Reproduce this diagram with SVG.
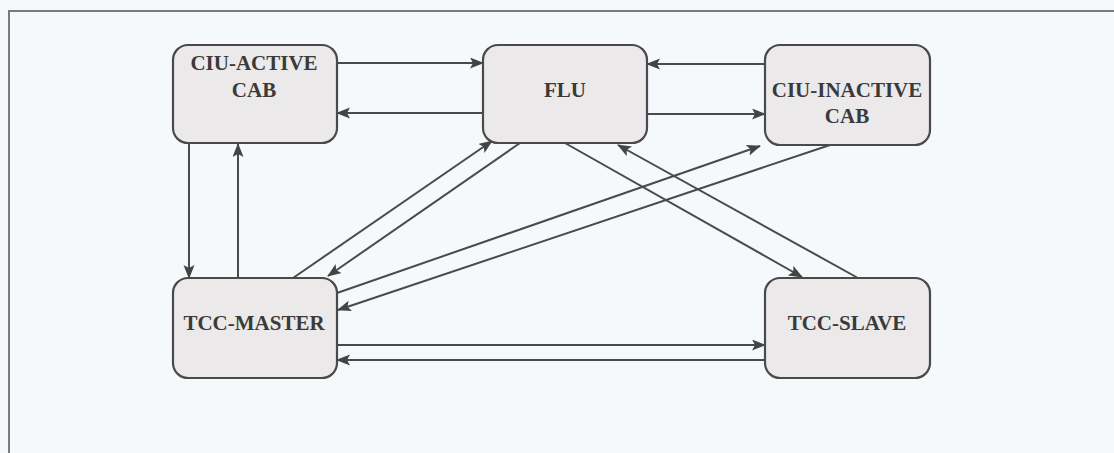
<svg xmlns="http://www.w3.org/2000/svg" width="1114" height="453" viewBox="0 0 1114 453">
  <defs>
    <marker id="arr" markerUnits="userSpaceOnUse" markerWidth="15" markerHeight="12" refX="13" refY="5.5" orient="auto">
      <path d="M0,0 L14,5.5 L0,11 L3,5.5 Z" fill="#444"/>
    </marker>
  </defs>
  <style>
    .bg { fill: #f6f9fb; }
    .frame { stroke: #7a7a7a; stroke-width: 2; fill: none; }
    .node rect { fill: #ebe9ea; stroke: #4a4a4a; stroke-width: 2.2; }
    .node text { font-family: "Liberation Serif", "Times New Roman", serif; font-weight: bold; font-size: 21px; fill: #3a3a3a; text-anchor: middle; }
    .edges line { stroke: #4a4a4a; stroke-width: 2; marker-end: url(#arr); }
  </style>
  <rect class="bg" x="0" y="0" width="1114" height="453"/>
  <path class="frame" d="M9,453 L9,11 L1114,11"/>

  <g class="edges" id="connectors">
    <line x1="337" y1="63" x2="483" y2="63"/>
    <line x1="483" y1="113" x2="337" y2="113"/>
    <line x1="765" y1="64" x2="647" y2="64"/>
    <line x1="647" y1="114" x2="765" y2="114"/>
    <line x1="189" y1="143" x2="189" y2="278"/>
    <line x1="238" y1="278" x2="238" y2="144"/>
    <line x1="293" y1="278" x2="492" y2="141"/>
    <line x1="520" y1="143" x2="328" y2="276"/>
    <line x1="337" y1="293" x2="760" y2="146"/>
    <line x1="830" y1="145" x2="338" y2="310"/>
    <line x1="565" y1="143" x2="802" y2="277"/>
    <line x1="858" y1="278" x2="618" y2="145"/>
    <line x1="337" y1="345" x2="765" y2="345"/>
    <line x1="765" y1="360" x2="337" y2="360"/>
  </g>

  <g class="node" id="ciu-active-cab">
    <rect x="173" y="45" width="164" height="98" rx="15"/>
    <text x="254" y="70">CIU-ACTIVE</text>
    <text x="254" y="97">CAB</text>
  </g>
  <g class="node" id="flu">
    <rect x="483" y="45" width="164" height="98" rx="15"/>
    <text x="565" y="97">FLU</text>
  </g>
  <g class="node" id="ciu-inactive-cab">
    <rect x="765" y="45" width="165" height="100" rx="15"/>
    <text x="847" y="97">CIU-INACTIVE</text>
    <text x="847" y="123">CAB</text>
  </g>
  <g class="node" id="tcc-master">
    <rect x="173" y="278" width="164" height="100" rx="15"/>
    <text x="254" y="330">TCC-MASTER</text>
  </g>
  <g class="node" id="tcc-slave">
    <rect x="765" y="278" width="165" height="100" rx="15"/>
    <text x="847" y="330">TCC-SLAVE</text>
  </g>
</svg>
